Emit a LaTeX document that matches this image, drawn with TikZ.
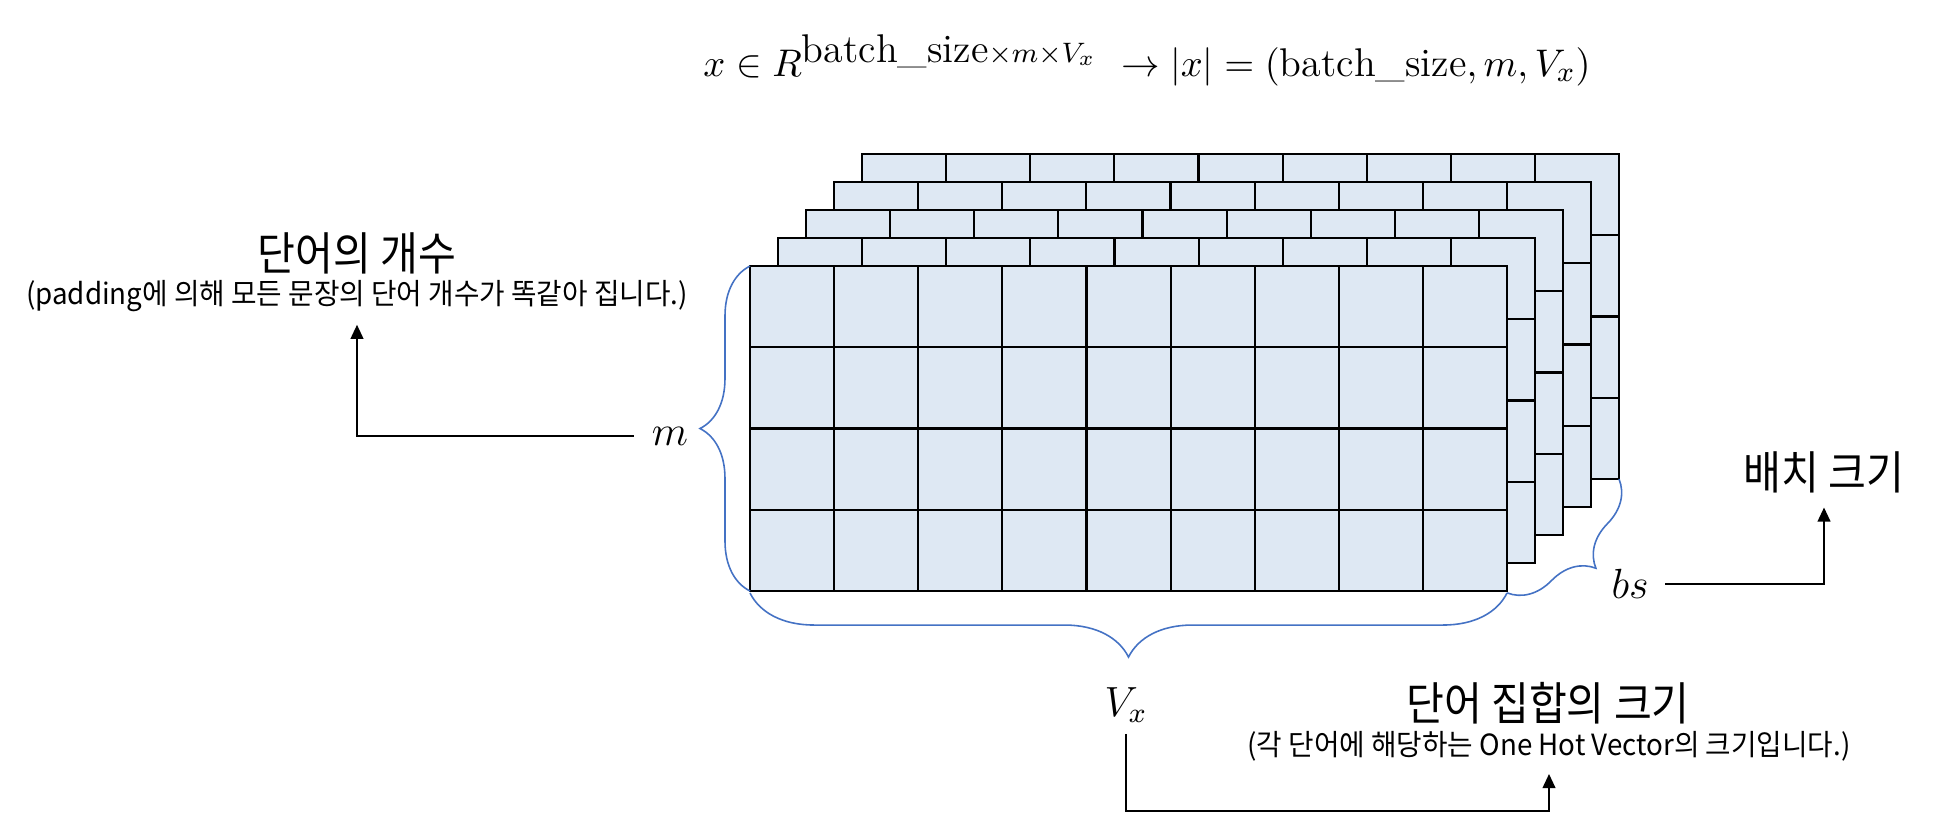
\documentclass[tikz,border=0pt]{standalone}
\usepackage{amsmath}
\usepackage{fontspec}
\newfontfamily\krfont[FakeStretch=0.9]{Noto Sans CJK KR}
\newfontfamily\krnotefont[FakeStretch=0.95]{Noto Sans CJK KR}
\usetikzlibrary{arrows.meta, decorations.pathreplacing, positioning}
\definecolor{cellfill}{RGB}{222,232,243}
\definecolor{braceblue}{RGB}{68,114,196}

\begin{document}
\begin{tikzpicture}[
    x=0.01cm, y=-0.01cm,
    cellgrid/.style = {draw=black, line width=0.6pt},
    brc/.style = {draw=braceblue, line width=0.45pt, decorate,
      decoration={brace, amplitude=#1}},
    arr/.style = {-{Triangle[length=4pt,width=3.6pt]}, line width=0.55pt},
    mathlbl/.style = {font=\fontsize{12}{14}\selectfont, inner sep=1pt},
    krtitle/.style = {font=\krfont\fontsize{13}{15}\selectfont, inner sep=1pt},
    krnote/.style = {font=\krnotefont\fontsize{8.3}{10}\selectfont, inner sep=1pt},
  ]
    \useasboundingbox (0,0) rectangle (1934,826);

    % Formula on top
    \node[mathlbl, font=\fontsize{11.4}{13}\selectfont] (formula) at (1147,60)
      {$x \in R^{\textstyle\mathrm{batch\_size}\scriptstyle\times m\times V_x}\ \rightarrow |x| = (\mathrm{batch\_size}, m, V_x)$};

    % Stacked batch grids, back to front
    \foreach \k in {4,3,2,1,0} {
      \begin{scope}[shift={(28*\k,-28*\k)}]
        \fill[cellfill] (750,266) rectangle (1507,591);
        \foreach \c in {1,...,8}
          \draw[cellgrid] (750+84.11*\c,266) -- (750+84.11*\c,591);
        \foreach \r in {1,2,3}
          \draw[cellgrid] (750,266+81.25*\r) -- (1507,266+81.25*\r);
        \draw[cellgrid] (750,266) rectangle (1507,591);
      \end{scope}
    }
    \coordinate (gridNW) at (750,266);
    \coordinate (gridSW) at (750,591);
    \coordinate (gridSE) at (1507,593);
    \coordinate (backSE) at (1619,479);

    % Braces
    \draw[brc=0.5cm]  (gridSW) -- (gridNW);
    \draw[brc=0.64cm] (gridSE) -- (gridSW |- gridSE);
    \draw[brc=0.46cm] (backSE) -- (gridSE);

    % Dimension labels
    \node[mathlbl] (mlab)  at (670,436)  {$m$};
    \node[mathlbl, font=\fontsize{13}{15}\selectfont] (bslab) at (1630,584) {$bs$};
    \node[mathlbl] (vxlab) at (1126,705) {$V_x$};

    % Descriptions
    \node[krtitle] (cnttitle)   at (357,253)  {단어의 개수};
    \node[krnote]  (cntnote)    at (357,296)  {(padding에 의해 모든 문장의 단어 개수가 똑같아 집니다.)};
    \node[krtitle] (batchtitle) at (1824,472) {배치 크기};
    \node[krtitle] (voctitle)   at (1548,703) {단어 집합의 크기};
    \node[krnote]  (vocnote)    at (1549,746) {(각 단어에 해당하는 One Hot Vector의 크기입니다.)};
    \coordinate (vxbend) at (1548,811);

    % Arrows
    \draw[arr, shorten <=4pt, shorten >=2.5pt] (mlab.west) -| (cntnote.south);
    \draw[arr, shorten <=3.5pt, shorten >=3pt] (bslab.east) -| (batchtitle.south);
    \draw[arr, shorten <=2pt, shorten >=2.5pt] (vxlab.south) |- (vxbend) -| (vocnote.south);
  \end{tikzpicture}
\end{document}
